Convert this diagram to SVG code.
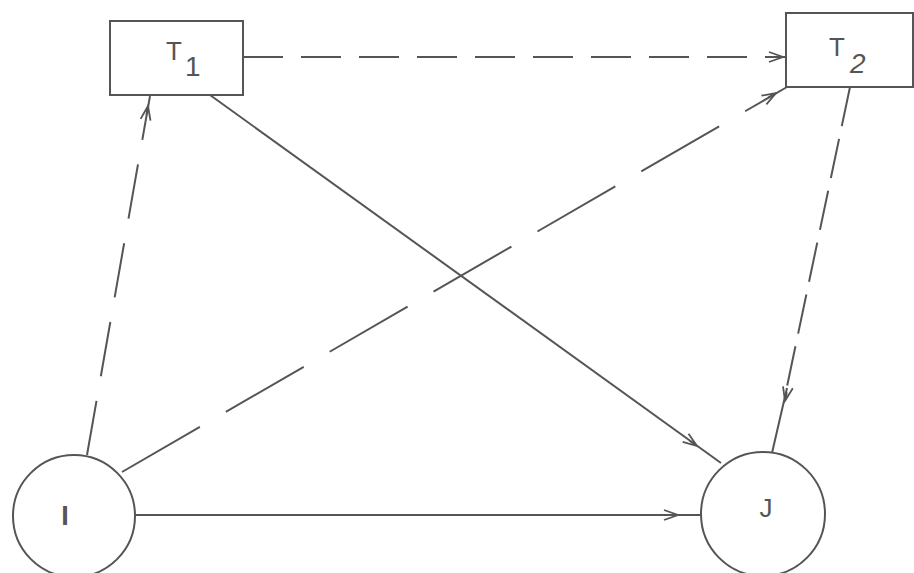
<svg xmlns="http://www.w3.org/2000/svg" width="914" height="573" viewBox="0 0 914 573">
  <style>
    .box { fill: #fff; stroke: #555; stroke-width: 2; }
    .node { fill: #fff; stroke: #555; stroke-width: 2; }
    .lbl { font-family: "Liberation Sans", Arial, sans-serif; fill: #555; }
    .edge { fill: none; stroke: #555; stroke-width: 2; }
    .ah { fill: none; stroke: #555; stroke-width: 1.8; stroke-linejoin: miter; }
  </style>
  <defs>
    <path id="vhead" class="ah" d="M-14,-5 L0,0 L-14,5 M-9,0 L0,0"/>
  </defs>
  <rect width="914" height="573" fill="#fff"/>

  <g id="connectors">
    <!-- T1 to T2 -->
    <line class="edge" x1="243" y1="57" x2="786" y2="57" stroke-dasharray="40 18"/>
    <use href="#vhead" transform="translate(783,57)"/>
    <!-- I to T1 -->
    <line class="edge" x1="87" y1="455" x2="150" y2="96" stroke-dasharray="55 25"/>
    <use href="#vhead" transform="translate(148,106) rotate(-80)"/>
    <!-- I to T2 -->
    <line class="edge" x1="122" y1="472" x2="787" y2="87" stroke-dasharray="90 30"/>
    <use href="#vhead" transform="translate(776,93) rotate(-30)"/>
    <!-- T1 to J -->
    <line class="edge" x1="210" y1="95" x2="721" y2="463"/>
    <use href="#vhead" transform="translate(697,446) rotate(35.7)"/>
    <!-- T2 to J -->
    <line class="edge" x1="850" y1="87" x2="785" y2="396" stroke-dasharray="40 13"/>
    <line class="edge" x1="787" y1="388" x2="772" y2="453"/>
    <use href="#vhead" transform="translate(785,401) rotate(102)"/>
    <!-- I to J -->
    <line class="edge" x1="135" y1="515" x2="701" y2="515"/>
    <use href="#vhead" transform="translate(678,515)"/>
  </g>

  <g id="T1">
    <rect class="box" x="110" y="21" width="133" height="74"/>
    <text class="lbl" x="166" y="60" font-size="26">T</text>
    <text class="lbl" x="185" y="76" font-size="28">1</text>
  </g>

  <g id="T2">
    <rect class="box" x="786" y="13" width="127" height="74"/>
    <text class="lbl" x="829" y="56" font-size="26">T</text>
    <text class="lbl" x="850" y="73" font-size="28" font-style="italic">2</text>
  </g>

  <g id="I">
    <circle class="node" cx="74" cy="516" r="61"/>
    <text class="lbl" x="65" y="525" font-size="27" text-anchor="middle" font-weight="bold">I</text>
  </g>

  <g id="J">
    <circle class="node" cx="763" cy="514" r="62"/>
    <text class="lbl" x="766" y="517" font-size="26" text-anchor="middle">J</text>
  </g>
</svg>
